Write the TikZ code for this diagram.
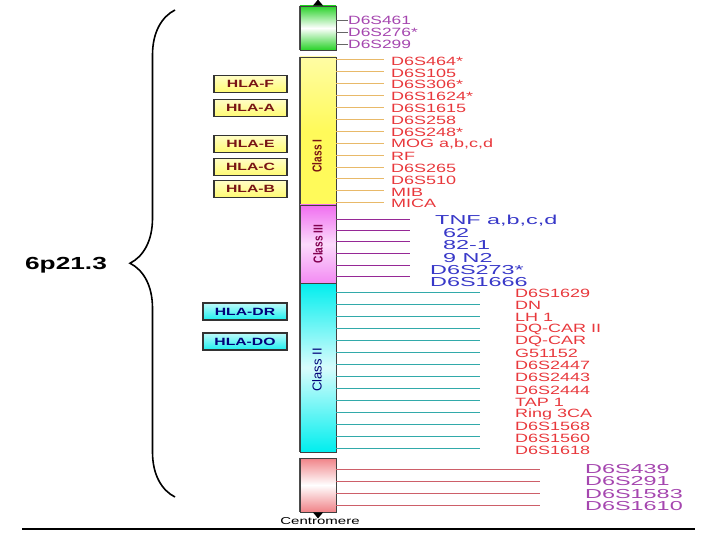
\documentclass[tikz,border=0pt]{standalone}
\usepackage{fontspec}
\setmainfont{Liberation Sans}
\newfontfamily\widefont[FakeStretch=1.5]{Liberation Sans}
\newfontfamily\xwidefont[FakeStretch=1.8]{Liberation Sans}
\newfontfamily\midfont[FakeStretch=1.45]{Liberation Sans}
\newfontfamily\narrowfont[FakeStretch=0.78]{Liberation Sans}
\usetikzlibrary{positioning, decorations.pathreplacing}
\definecolor{markred}{RGB}{232,56,60}
\definecolor{markblue}{RGB}{56,56,200}
\definecolor{markpurple}{RGB}{165,70,175}
\definecolor{bargreen}{RGB}{40,210,40}
\definecolor{baryellow}{RGB}{255,250,90}
\definecolor{barpink}{RGB}{240,110,240}
\definecolor{barcyan}{RGB}{0,238,238}
\definecolor{barred}{RGB}{240,130,135}
\definecolor{lineyellow}{RGB}{232,185,105}
\definecolor{linepink}{RGB}{150,40,150}
\definecolor{linecyan}{RGB}{50,170,170}
\definecolor{linered}{RGB}{205,95,105}
\definecolor{classone}{RGB}{120,20,20}
\definecolor{classthree}{RGB}{130,0,80}
\definecolor{classtwo}{RGB}{0,0,120}
\newcommand{\fsz}[1]{\fontsize{#1}{#1}\selectfont}

\begin{document}
\begin{tikzpicture}[x=1pt, y=-1pt,
  bar/.style={draw=black!75, line width=0.9pt, minimum width=36pt, inner sep=0pt},
  hlabox/.style={draw=black!80, line width=1.1pt, minimum height=17pt, inner sep=0pt,
    font=\widefont\bfseries\fsz{10.5}},
  lab/.style={anchor=west, inner sep=0pt}]
  \useasboundingbox (0,0) rectangle (720,540);

  % chromosome segments
  \node[bar, minimum height=44pt, top color=bargreen, bottom color=bargreen, middle color=white] (grn) at (318,28) {};
  \node[bar, minimum height=148pt, top color=baryellow!55, bottom color=baryellow, middle color=baryellow] (yel) at (318,131) {};
  \node[bar, minimum height=78pt, top color=barpink, bottom color=barpink!80, middle color=barpink!25] (pnk) at (318,244) {};
  \node[bar, minimum height=169pt, top color=barcyan, bottom color=barcyan, middle color=barcyan!15] (cyn) at (318,367.5) {};
  \node[bar, minimum height=54pt, top color=barred, bottom color=barred, middle color=white] (red) at (318,485) {};
  \draw[black!70, line width=1.6pt] (grn.north west) -- (grn.south west)
    (yel.north west) -- (cyn.south west) (red.north west) -- (red.south west);

  \node[rotate=90, font=\narrowfont\bfseries\fsz{13}, text=classone] at (317,156) {Class I};
  \node[rotate=90, font=\narrowfont\bfseries\fsz{13}, text=classthree] at (pnk) {Class III};
  \node[rotate=90, font=\fsz{13}, text=classtwo] at (317,370) {Class II};

  % arrow ends
  \fill (grn.north) ++(-5,0) -- ++(10,0) -- ++(-5,-6) -- cycle;
  \fill (red.south) ++(-5,0) -- ++(10,0) -- ++(-5,6) -- cycle;
  \node[font=\widefont\fsz{10}, inner sep=0pt] (cen) at (320,521) {Centromere};

  % markers
  \foreach \y/\lab in {20/D6S461, 32/D6S276*, 44/D6S299} {
    \node[lab, text=markpurple, font=\midfont\fsz{12}] (g\y) at (348,\y) {\lab};
    \draw[black!60] (grn.east |- g\y.west) -- (g\y.west);
  }
  \foreach \lab [count=\i] in {D6S464*, D6S105, D6S306*, D6S1624*, D6S1615, D6S258,
      D6S248*, {MOG a,b,c,d}, RF, D6S265, D6S510, MIB, MICA} {
    \node[lab, text=markred, font=\widefont\fsz{12}] (y\i) at (391,49.1+11.9*\i) {\lab};
    \draw[lineyellow, line width=0.8pt] (yel.east |- 0,48+11.9*\i) -- ++(48,0);
  }
  \foreach \ly/\y/\x/\lab [count=\i] in {219/221/435/{TNF a,b,c,d}, 230/233.5/443/62, 241/245.5/443/82-1,
      253/258/443/9 N2, 265/270/430/D6S273*, 276/282/430/D6S1666} {
    \node[lab, text=markblue, font=\xwidefont\fsz{13}] (p\i) at (\x,\y) {\lab};
    \draw[linepink, line width=0.8pt] (pnk.east |- 0,\ly) -- ++(74,0);
  }
  \foreach \lab [count=\i] in {D6S1629, DN, LH 1, DQ-CAR II, DQ-CAR, G51152, D6S2447,
      D6S2443, D6S2444, TAP 1, Ring 3CA, D6S1568, D6S1560, D6S1618} {
    \node[lab, text=markred, font=\widefont\fsz{12}] (c\i) at (515,281+12.1*\i) {\lab};
    \draw[linecyan, line width=0.8pt] (cyn.east |- 0,280+12*\i) -- ++(144,0);
  }
  \foreach \lab [count=\i] in {D6S439, D6S291, D6S1583, D6S1610} {
    \node[lab, text=markpurple, font=\xwidefont\fsz{13}] (r\i) at (585,457+12.2*\i) {\lab};
    \draw[linered, line width=1pt] (red.east |- r\i.west) -- ++(204,0);
  }

  % HLA genes
  \foreach \y/\lab in {84/HLA-F, 108/HLA-A, 144/HLA-E, 167/HLA-C, 189/HLA-B}
    \node[hlabox, minimum width=73pt, top color=baryellow!35, bottom color=baryellow!85,
      text=classone] (h\y) at (250.5,\y) {\lab};
  \foreach \y/\lab in {311.5/HLA-DR, 341.5/HLA-DO}
    \node[hlabox, minimum width=84pt, top color=barcyan!25, bottom color=barcyan!90,
      text=classtwo] at (245,\y) {\lab};

  % band
  \draw[decorate, decoration={brace, amplitude=45pt, aspect=0.48}, line width=1.6pt]
    (175,497) -- (175,10);
  \node[font=\widefont\bfseries\fsz{17.5}] (band) at (66,265) {6p21.3};

  \coordinate (ruleL) at (22,529);
  \coordinate (ruleR) at (695,529);
  \draw[line width=1.2pt] (ruleL) -- (ruleR);
\end{tikzpicture}
\end{document}
